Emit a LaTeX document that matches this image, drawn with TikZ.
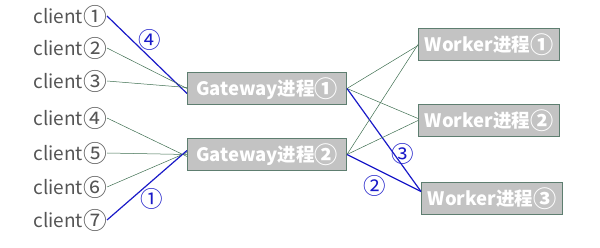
\documentclass[tikz,border=0pt]{standalone}
\usepackage{fontspec}
\setmainfont{Noto Sans CJK SC}
\newcommand{\cn}[1]{\raisebox{-0.15ex}{\scalebox{1.25}{#1}}}
\definecolor{boxfill}{HTML}{C3C3C3}
\definecolor{boxline}{HTML}{5E7E70}
\definecolor{gline}{HTML}{3E6E50}
\definecolor{bline}{HTML}{1A1AC8}
\definecolor{ctext}{HTML}{555555}
\begin{document}
\begin{tikzpicture}[x=1pt,y=-1pt,
  proc/.style={draw=boxline,line width=1pt,fill=boxfill,text=white,font=\fontsize{18.5}{18.5}\selectfont\bfseries,inner sep=0pt,minimum height=32pt,anchor=north west},
  cli/.style={text=ctext,font=\fontsize{19}{19}\selectfont,inner sep=0pt,anchor=east},
  thin/.style={draw=gline,line width=0.5pt},
  thick/.style={draw=bline,line width=1.2pt},
  lab/.style={text=bline,font=\fontsize{18}{18}\selectfont,inner sep=0pt}]
\useasboundingbox (0,0) rectangle (600,248);
\node[proc,minimum width=159pt] (g1) at (187,72) {Gateway进程\cn{①}};
\node[proc,minimum width=159pt] (g2) at (187,138) {Gateway进程\cn{②}};
\node[proc,minimum width=141pt] (w1) at (418,28) {Worker进程\cn{①}};
\node[proc,minimum width=141pt] (w2) at (418,104) {Worker进程\cn{②}};
\node[proc,minimum width=141pt] (w3) at (421,182) {Worker进程\cn{③}};
\node[cli] (c1) at (107,16) {client\cn{①}};
\node[cli] (c2) at (107,48) {client\cn{②}};
\node[cli] (c3) at (107,81) {client\cn{③}};
\node[cli] (c4) at (107,118) {client\cn{④}};
\node[cli] (c5) at (107,153) {client\cn{⑤}};
\node[cli] (c6) at (107,187) {client\cn{⑥}};
\node[cli] (c7) at (107,220) {client\cn{⑦}};
\draw[thick] (c1.east) -- ([yshift=-5pt]g1.west);
\draw[thin] (c2.east) -- (g1.west);
\draw[thin] (c3.east) -- ([yshift=1pt]g1.west);
\draw[thin] (c4.east) -- ([yshift=-2pt]g2.west);
\draw[thin] (c5.east) -- (g2.west);
\draw[thin] (c6.east) -- ([yshift=2pt]g2.west);
\draw[thick] (c7.east) -- ([yshift=4pt]g2.west);
\draw[thin] (g1.east) -- ([yshift=-1pt]w1.west);
\draw[thin] (g1.east) -- ([yshift=2pt]w2.west);
\draw[thick] (g1.east) -- ([yshift=7pt]w3.west);
\draw[thin] (g2.east) -- (w1.west);
\draw[thin] (g2.east) -- ([yshift=0pt]w2.west);
\draw[thick] (g2.east) -- ([yshift=7pt]w3.west);
\node[lab] (l4) at (150,40) {\cn{④}};
\node[lab] (l1) at (152,199) {\cn{①}};
\node[lab] (l3) at (403,154) {\cn{③}};
\node[lab] (l2) at (375,186) {\cn{②}};
\end{tikzpicture}
\end{document}
